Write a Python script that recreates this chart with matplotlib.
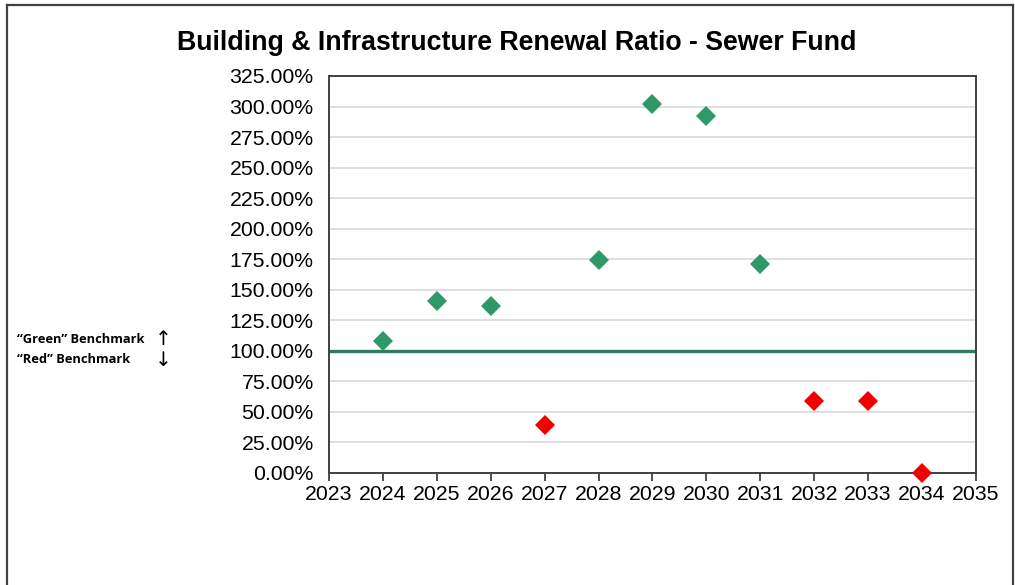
import matplotlib.pyplot as plt
import matplotlib.ticker as mticker
from matplotlib.lines import Line2D

# renewal ratio by year (percent)
years = [2024, 2025, 2026, 2027, 2028, 2029, 2030, 2031, 2032, 2033, 2034]
ratio = [108, 141, 137, 39, 174, 302, 292, 171, 59, 59, 0]
benchmark = 100
year_ticks = list(range(2023, 2036))
pct_ticks = list(range(0, 326, 25))

green = '#2E9966'
red = '#F20000'

plt.rcParams['font.family'] = ['Liberation Sans', 'DejaVu Sans']

fig = plt.figure(figsize=(10.15, 5.85), dpi=100)
ax = fig.add_axes([0.3241, 0.1915, 0.6374, 0.6786])

ax.set_xlim(2023, 2035)
ax.set_ylim(0, 325)
ax.set_xticks(year_ticks)
ax.set_yticks(pct_ticks)
ax.yaxis.set_major_formatter(mticker.FuncFormatter(lambda v, p: f'{v:.2f}%'))

ax.grid(axis='y', color='#dcdcdc', linewidth=1.3)
ax.set_axisbelow(True)
for s in ax.spines.values():
    s.set_color('#404040')
    s.set_linewidth(1.4)

ax.tick_params(axis='x', direction='out', length=6, width=1.3, color='#404040',
               labelsize=15.3, pad=3)
ax.tick_params(axis='y', length=0, labelsize=15.3, pad=11)

ax.axhline(benchmark, color='#2F7D5A', linewidth=2.4, zorder=2)

for yr, r in zip(years, ratio):
    c = green if r >= benchmark else red
    ax.plot(yr, r, marker='D', markersize=10.5, color=c, markeredgewidth=0,
            linestyle='none', clip_on=False, zorder=3)

fig.text(0.509, 0.927, 'Building & Infrastructure Renewal Ratio - Sewer Fund',
         ha='center', va='center', fontsize=19.3, fontweight='bold')

# benchmark key on the left
fig.text(0.017, 0.419, '\u201cGreen\u201d Benchmark', fontsize=9.3, fontweight='bold',
         family=['Open Sans', 'DejaVu Sans'], va='center')
fig.text(0.017, 0.385, '\u201cRed\u201d Benchmark', fontsize=9.3, fontweight='bold',
         family=['Open Sans', 'DejaVu Sans'], va='center')
fig.text(0.161, 0.420, '\u2191', fontsize=14.5,
         family='DejaVu Sans', ha='center', va='center')
fig.text(0.161, 0.383, '\u2193', fontsize=14.5,
         family='DejaVu Sans', ha='center', va='center')

# outer frame
frame_kw = dict(color='#404040', linewidth=1.6, transform=fig.transFigure)
fig.add_artist(Line2D([0.007, 0.998], [0.991, 0.991], **frame_kw))
fig.add_artist(Line2D([0.007, 0.007], [0.0, 0.991], **frame_kw))
fig.add_artist(Line2D([0.998, 0.998], [0.0, 0.991], **frame_kw))

fig.savefig('out.png', dpi=100)
